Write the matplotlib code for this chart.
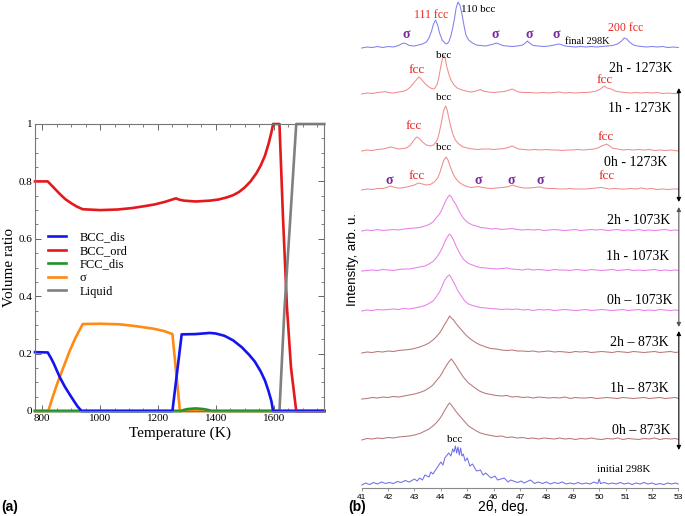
import matplotlib
matplotlib.use('Agg')
import matplotlib.pyplot as plt
from matplotlib.ticker import MultipleLocator, FuncFormatter

# ---------------- (a) volume ratio vs temperature ----------------
T_bcc_dis = [775, 819, 830, 840, 850, 861, 878, 896, 910, 922, 936, 1250, 1282, 1330, 1379, 1400, 1430,
             1460, 1490, 1515, 1535, 1555, 1570, 1582, 1592, 1598, 1775]
V_bcc_dis = [0.205, 0.204, 0.185, 0.165, 0.142, 0.117, 0.085, 0.056, 0.034, 0.016, 0, 0, 0.267, 0.268, 0.272, 0.270, 0.262,
             0.246, 0.222, 0.196, 0.172, 0.138, 0.106, 0.07, 0.035, 0, 0]

T_bcc_ord = [775, 819, 840, 860, 880, 900, 920, 940, 1000, 1060, 1110, 1149, 1190, 1225, 1250, 1262, 1275, 1290,
             1330, 1380, 1410, 1437, 1460, 1480, 1500, 1520, 1540, 1555, 1570, 1582, 1592, 1598, 1620, 1632, 1646,
             1660, 1678, 1775]
V_bcc_ord = [0.80, 0.80, 0.778, 0.757, 0.738, 0.724, 0.712, 0.703, 0.700, 0.702, 0.707, 0.713, 0.720, 0.729, 0.737,
             0.741, 0.736, 0.733, 0.730, 0.733, 0.737, 0.744, 0.752, 0.763, 0.779, 0.80, 0.828, 0.855, 0.89, 0.93,
             0.97, 1.0, 1.0, 0.68, 0.36, 0.15, 0, 0]

T_fcc_dis = [775, 1280, 1290, 1305, 1330, 1355, 1372, 1385, 1775]
V_fcc_dis = [0, 0, 0.004, 0.007, 0.009, 0.007, 0.004, 0, 0]

T_sigma = [775, 821, 835, 850, 861, 880, 896, 915, 940, 1000, 1068, 1120, 1183, 1220, 1250, 1276, 1775]
V_sigma = [0, 0, 0.045, 0.09, 0.12, 0.17, 0.212, 0.255, 0.303, 0.304, 0.302, 0.296, 0.287, 0.279, 0.268, 0, 0]

T_liquid = [775, 1620, 1637, 1658, 1678, 1775]
V_liquid = [0, 0, 0.35, 0.68, 1.0, 1.0]

legend_labels = ['BCC_dis', 'BCC_ord', 'FCC_dis', 'σ', 'Liquid']

# ---------------- (b) XRD patterns (intensity above baseline) ----------------
final_tt = [41.0, 41.2, 41.4, 41.6, 41.8, 42.0, 42.2, 42.4, 42.5, 42.6, 42.7, 42.8, 43.0, 43.15, 43.3, 43.45, 43.55,
            43.65, 43.72, 43.8, 43.88, 43.95, 44.05, 44.15, 44.22, 44.3, 44.38, 44.45, 44.52, 44.58, 44.65, 44.72,
            44.8, 44.88, 44.95, 45.05, 45.2, 45.35, 45.5, 45.7, 45.85, 46.0, 46.1, 46.2, 46.35, 46.5, 46.7, 46.9,
            47.1, 47.2, 47.28, 47.36, 47.5, 47.7, 47.9, 48.1, 48.3, 48.45, 48.55, 48.7, 48.9, 49.1, 49.3, 49.5, 49.7,
            49.9, 50.1, 50.3, 50.5, 50.7, 50.85, 50.95, 51.05, 51.15, 51.3, 51.45, 51.6, 51.8, 52.0, 52.2, 52.4,
            52.6, 52.8, 53.0]
final_I = [0, 1, 0.5, 1.5, 0.5, 1.5, 1, 2.5, 4, 5, 4, 2.5, 2, 3, 4, 6, 10,
           17, 24, 28, 23, 15, 8, 5, 4, 6, 12, 20, 30, 40, 46, 43,
           34, 22, 13, 8, 5, 3, 2.5, 2, 3, 4, 5, 4, 2.5, 2, 1.5, 2,
           3, 5, 7, 5, 2.5, 2, 1.5, 2, 3, 4, 3.5, 2, 1.5, 1, 1.5, 1, 1.5,
           1, 1.5, 2, 2.5, 4, 7, 10, 9, 6, 3, 2, 1.5, 1, 1.5, 1, 1.5,
           0.5, 1, 0.5]

h2_1273_tt = [41.0, 41.2, 41.4, 41.6, 41.8, 41.9, 42.0, 42.2, 42.4, 42.55, 42.7, 42.85, 43.0, 43.1, 43.17, 43.25, 43.35,
              43.45, 43.55, 43.65, 43.75, 43.85, 43.92, 43.98, 44.04, 44.1, 44.16, 44.22, 44.3, 44.4, 44.5, 44.62,
              44.8, 44.95, 45.1, 45.25, 45.4, 45.5, 45.6, 45.8, 46.0, 46.2, 46.4, 46.55, 46.7, 46.82, 46.95, 47.15,
              47.4, 47.6, 47.9, 48.1, 48.3, 48.5, 48.7, 48.9, 49.1, 49.3, 49.5, 49.7, 49.9, 50.05, 50.15, 50.2, 50.3,
              50.45, 50.6, 50.8, 51.0, 51.2, 51.4, 51.6, 51.8, 52.0, 52.2, 52.4, 52.6, 52.8, 53.0]
h2_1273_I = [0, 1, 0.5, 1.5, 2, 2.5, 1.5, 1, 2, 2.5, 4, 7, 12, 15, 17, 15, 12,
             9, 7, 5.5, 5, 9, 16, 25, 33, 39, 36, 28, 20, 13, 9, 6,
             4, 3, 2, 2.5, 3.5, 4.5, 3, 2, 1.5, 2, 2.5, 3.5, 5, 3.5, 2, 1.5,
             1.5, 1, 1.5, 1, 1.5, 2, 1, 1.5, 1, 1.5, 1.5, 2, 3, 5, 7, 8, 6,
             5, 3, 2, 1.5, 1, 1.5, 1, 1.5, 1, 1.5, 0.5, 1, 0.5, 0.5]

h1_1273_tt = [41.0, 41.2, 41.4, 41.6, 41.8, 41.95, 42.12, 42.25, 42.4, 42.55, 42.7, 42.85, 42.95, 43.05, 43.1, 43.2,
              43.3, 43.45, 43.6, 43.72, 43.82, 43.9, 43.97, 44.04, 44.1, 44.18, 44.24, 44.3, 44.37, 44.45, 44.55,
              44.68, 44.85, 45.0, 45.2, 45.4, 45.6, 45.8, 46.0, 46.2, 46.4, 46.55, 46.7, 46.82, 46.95, 47.15, 47.35,
              47.55, 47.8, 48.0, 48.2, 48.4, 48.6, 48.8, 49.0, 49.2, 49.4, 49.6, 49.8, 49.95, 50.1, 50.2, 50.28, 50.4,
              50.5, 50.7, 50.9, 51.1, 51.3, 51.5, 51.7, 51.9, 52.1, 52.3, 52.5, 52.7, 53.0]
h1_1273_I = [0, 1, 0.5, 1.5, 2, 3, 4, 3, 2, 2.5, 3, 6, 10, 13, 14, 12,
             9, 6, 5, 6, 9, 14, 22, 31, 40, 45, 41, 33, 25, 17, 11,
             7, 4, 3, 2, 1.5, 2, 2, 1.5, 2, 2.5, 3.5, 5, 3.5, 2, 1.5, 1,
             1.5, 1, 1.5, 1, 1, 0.5, 1, 1, 1.5, 1, 1.5, 2, 3, 5, 6, 7, 5,
             3, 2, 1, 1.5, 1, 1.5, 1, 1.5, 0.5, 1, 0.5, 1, 0]

h0_1273_tt = [41.0, 41.2, 41.4, 41.6, 41.8, 41.95, 42.1, 42.2, 42.35, 42.5, 42.7, 42.85, 43.0, 43.15, 43.3, 43.45,
              43.6, 43.75, 43.88, 43.97, 44.05, 44.12, 44.2, 44.27, 44.35, 44.45, 44.55, 44.68, 44.85, 45.0, 45.15,
              45.3, 45.4, 45.5, 45.7, 45.9, 46.1, 46.3, 46.5, 46.62, 46.72, 46.82, 46.95, 47.15, 47.35, 47.55, 47.7,
              47.78, 47.9, 48.1, 48.3, 48.5, 48.7, 48.9, 49.1, 49.3, 49.5, 49.7, 49.9, 50.05, 50.2, 50.4, 50.6, 50.8,
              51.0, 51.2, 51.4, 51.6, 51.8, 52.0, 52.2, 52.4, 52.6, 52.8, 53.0]
h0_1273_I = [0, 1, 0.5, 1.5, 1.5, 2.5, 4, 3, 2, 2, 3, 4, 5, 7, 6, 5,
             5.5, 8, 12, 18, 25, 30, 33, 30, 24, 17, 12, 8, 5, 3.5, 2.5,
             3, 3.5, 3, 2, 1.5, 2, 2.5, 3, 4, 5, 4, 3, 2, 2, 2.5, 3,
             3, 2, 1.5, 1.5, 1, 1, 1.5, 1, 1, 1, 1.5, 2, 2.5, 2, 1, 1.5, 1,
             1, 1.5, 1, 2, 1, 1.5, 0.5, 1, 0.5, 1, 1]

grid_tt = [41.0, 41.2, 41.4, 41.6, 41.8, 42.0, 42.2, 42.4, 42.6, 42.8, 43.0, 43.2, 43.4, 43.55, 43.7, 43.82, 43.95,
           44.05, 44.13, 44.2, 44.27, 44.33, 44.4, 44.48, 44.56, 44.65, 44.75, 44.85, 44.95, 45.05, 45.2, 45.35,
           45.5, 45.7, 45.9, 46.1, 46.3, 46.5, 46.7, 46.9, 47.1, 47.3, 47.5, 47.7, 47.9, 48.1, 48.3, 48.5, 48.7,
           48.9, 49.1, 49.3, 49.5, 49.7, 49.9, 50.1, 50.3, 50.5, 50.7, 50.9, 51.1, 51.3, 51.5, 51.7, 51.9, 52.1,
           52.3, 52.5, 52.7, 52.9, 53.0]

h2_1073_I = [0, 1, 0.5, 1.5, 0.5, 1, 1.5, 1, 2, 2.5, 3, 3.5, 5, 6.5, 9, 13, 17,
             22, 27, 31, 34, 36, 34, 30, 27, 22, 17, 13, 10, 8, 6, 5,
             3.5, 3, 2, 2.5, 1.5, 2, 2.5, 1.5, 1, 1.5, 1, 1.5, 0.5, 1, 1.5, 1, 0.5,
             1, 1.5, 0.5, 1, 1.5, 1, 1.5, 0.5, 1, 1.5, 0.5, 1, 0.5, 1.5, 0.5, 1, 0.5,
             1, 1.5, 0.5, 1, 0.5]
h1_1073_I = [0, 0.5, 1, 0.5, 1.5, 1, 0.5, 1.5, 2, 2, 3, 4, 5, 7, 9.5, 13, 18,
             23, 28, 32, 35, 37, 35, 31, 26, 21, 16, 12, 9.5, 7.5, 6, 4.5,
             3.5, 3, 2.5, 2, 2.5, 3, 2, 1.5, 1, 2, 1, 1.5, 1, 0.5, 1.5, 1, 1,
             0.5, 1.5, 1, 0.5, 1.5, 1, 0.5, 1, 1.5, 0.5, 1, 1.5, 0.5, 1, 0.5, 1, 1.5,
             0.5, 1, 0.5, 1, 0.5]
h0_1073_I = [0, 1, 0.5, 1.5, 1, 1.5, 2, 1.5, 2.5, 2, 3, 4, 5.5, 7.5, 10, 14, 19,
             25, 30, 33, 35, 36, 33, 29, 25, 20, 16, 12, 9, 7, 5.5, 4.5,
             3.5, 3, 2.5, 2, 1.5, 2, 1.5, 2, 1, 1.5, 0.5, 1.5, 1, 1.5, 0.5, 1, 1.5,
             1, 0.5, 1, 1.5, 0.5, 1, 1.5, 1, 0.5, 1, 1.5, 0.5, 1, 1.5, 0.5, 1, 0.5,
             1.5, 1, 0.5, 1, 0.5]
h2_873_I = [0, 1, 0.5, 1.5, 1, 2, 1.5, 2.5, 3, 3.5, 4.5, 6, 8, 10, 13, 16, 20,
            24, 28, 31, 34, 37, 35, 33, 30, 27, 24, 21, 18, 15.5, 12.5, 10,
            8, 6, 4.5, 4, 3, 2.5, 3, 2, 2, 1.5, 2, 1, 1.5, 2, 1, 1.5, 1,
            0.5, 1.5, 1, 1.5, 0.5, 1, 1.5, 1, 0.5, 1.5, 1, 0.5, 1.5, 1, 0.5, 1, 1.5,
            0.5, 1, 1.5, 0.5, 1]
h1_873_I = [0, 0.5, 1.5, 1, 2, 1.5, 2.5, 2, 3, 4, 5, 6.5, 8.5, 11, 14, 18, 22,
            26, 30, 33, 36, 38, 40, 37, 34, 30, 26, 22, 19, 16, 13, 10,
            7.5, 5.5, 4.5, 3.5, 3, 3.5, 2, 2.5, 1.5, 2, 1, 2, 1.5, 1, 1.5, 1, 2,
            0.5, 1.5, 1, 1, 1.5, 0.5, 1, 1.5, 1, 0.5, 1.5, 1, 0.5, 1, 1.5, 0.5, 1,
            1.5, 0.5, 1, 1.5, 0.5]
h0_873_I = [0, 1.5, 1, 2, 1.5, 2.5, 2, 3, 3.5, 4, 5, 6.5, 9, 11, 14, 17, 21,
            25, 29, 32, 35, 37, 35, 32, 29, 26, 23, 20, 17, 14, 11.5, 9,
            7, 5.5, 4.5, 3.5, 4, 2.5, 3, 2, 2.5, 1.5, 2, 1, 2, 1.5, 1, 2, 1,
            1.5, 0.5, 1.5, 1, 2, 1, 0.5, 1.5, 1, 2, 0.5, 1.5, 1, 0.5, 1.5, 1, 2,
            0.5, 1.5, 1, 1.5, 0.5]

init_tt = [41.0, 41.15, 41.3, 41.45, 41.6, 41.75, 41.9, 42.05, 42.2, 42.35, 42.5, 42.65, 42.8, 43.0, 43.1, 43.2,
           43.3, 43.4, 43.55, 43.62, 43.7, 43.85, 44.0, 44.08, 44.15, 44.3, 44.38, 44.45, 44.5, 44.55, 44.6, 44.65,
           44.7, 44.75, 44.8, 44.85, 44.92, 45.0, 45.1, 45.2, 45.35, 45.5, 45.6, 45.7, 45.9, 46.05, 46.15, 46.4,
           46.55, 46.65, 46.9, 47.05, 47.15, 47.4, 47.55, 47.7, 47.85, 48.0, 48.15, 48.3, 48.45, 48.6, 48.75, 48.9,
           49.05, 49.2, 49.35, 49.5, 49.65, 49.8, 49.95, 50.0, 50.05, 50.2, 50.35, 50.5, 50.65, 50.8, 50.95, 51.1,
           51.25, 51.4, 51.55, 51.7, 51.85, 52.0, 52.15, 52.3, 52.45, 52.6, 52.75, 52.9, 53.0]
init_I = [0, 2, 0.5, 2.5, 1, 3, 1.5, 2.5, 1.5, 3.5, 2.5, 4.5, 3, 6, 4, 7,
          5, 10, 8, 13, 11, 17, 23, 20, 27, 32, 29, 36, 33, 39, 32, 38,
          30, 37, 29, 31, 24, 27, 19, 21, 14, 15, 10, 12, 7, 9, 5, 7,
          3, 5, 2.5, 4, 2, 5, 1.5, 3, 1.5, 3, 1, 2.5, 1.5, 3, 1, 2,
          1, 2.5, 1, 2, 1, 3, 1.5, 6, 1.5, 2.5, 1, 2, 1, 2.5, 1, 2,
          0.5, 2, 1, 2.5, 1, 2, 0.5, 1.5, 0.5, 2, 1, 2, 1]

trace_tts = [final_tt, h2_1273_tt, h1_1273_tt, h0_1273_tt, grid_tt, grid_tt, grid_tt, grid_tt, grid_tt, grid_tt, init_tt]
trace_Is = [final_I, h2_1273_I, h1_1273_I, h0_1273_I, h2_1073_I, h1_1073_I, h0_1073_I, h2_873_I, h1_873_I, h0_873_I, init_I]
trace_labels = ['final 298K', '2h - 1273K', '1h - 1273K', '0h - 1273K', '2h - 1073K', '1h - 1073K',
                '0h \u2013 1073K', '2h \u2013 873K', '1h \u2013 873K', '0h \u2013 873K', 'initial 298K']
xrd_ticks = list(range(41, 54))

# layout (positions / styles)
offsets = [440, 394, 337, 298, 257, 217, 177, 135, 89, 48, 3]
trace_colors = ['#8080ef', '#f08c8c', '#f08c8c', '#f08c8c', '#e97ee9', '#e97ee9', '#e97ee9',
                '#b97777', '#b97777', '#b97777', '#6f6fe8']
label_pos = [(49.55, 446), (51.58, 420), (51.52, 379), (51.38, 326), (51.48, 268), (51.45, 232),
             (51.52, 188), (51.52, 146), (51.52, 100), (51.58, 58), (50.92, 18)]
label_size = [7.5, 10, 10, 10, 10, 10, 10, 10, 10, 10, 8]

SERIF = ['Liberation Serif', 'DejaVu Serif']
SANS = ['Liberation Sans', 'DejaVu Sans']

fig = plt.figure(figsize=(6.85, 5.16), dpi=100)

# ---- panel (a)
ax = fig.add_axes([35 / 685, 1 - 411 / 516, 289.3 / 685, 287 / 516])
lw = 1.9
l_ord, = ax.plot(T_bcc_ord, V_bcc_ord, color='#e3191c', lw=lw)
l_liq, = ax.plot(T_liquid, V_liquid, color='#808080', lw=lw)
l_sig, = ax.plot(T_sigma, V_sigma, color='#ff8a14', lw=lw)
l_fcc, = ax.plot(T_fcc_dis, V_fcc_dis, color='#23922a', lw=lw)
l_dis, = ax.plot(T_bcc_dis, V_bcc_dis, color='#1414f0', lw=lw)
for l in (l_ord, l_liq, l_sig, l_fcc, l_dis):
    l.set_clip_on(False)
    l.set_solid_joinstyle('round')
ax.set_xlim(775, 1775)
ax.set_ylim(0, 1)
ax.xaxis.set_major_locator(MultipleLocator(200))
ax.xaxis.set_minor_locator(MultipleLocator(50))
ax.yaxis.set_major_locator(MultipleLocator(0.2))
ax.yaxis.set_minor_locator(MultipleLocator(0.05))
ax.yaxis.set_major_formatter(FuncFormatter(lambda v, p: f'{v:g}'))
ax.tick_params(which='both', direction='in', top=True, right=True, colors='#666666',
               labelcolor='black', labelsize=8, pad=2)
ax.tick_params(which='major', length=4, width=0.7)
ax.tick_params(which='minor', length=2.2, width=0.6)
for lab in ax.get_xticklabels() + ax.get_yticklabels():
    lab.set_family(SERIF)
for s in ax.spines.values():
    s.set_color('#777777')
    s.set_linewidth(0.8)
ax.set_xlabel('Temperature (K)', family=SERIF, fontsize=11, labelpad=3)
ax.set_ylabel('Volume ratio', family=SERIF, fontsize=11, labelpad=2)
leg = ax.legend([l_dis, l_ord, l_fcc, l_sig, l_liq], legend_labels, loc='upper left',
                bbox_to_anchor=(0.045, 0.625), frameon=False, prop={'family': SERIF, 'size': 9},
                handlelength=1.4, handletextpad=1.1, labelspacing=0.12, borderpad=0, borderaxespad=0)
for h in leg.legend_handles:
    h.set_linewidth(1.9)

# ---- panel (b)
bx = fig.add_axes([361.7 / 685, 1 - 488 / 516, 316.6 / 685, 488 / 516])
for tt, I, off, c in zip(trace_tts, trace_Is, offsets, trace_colors):
    bx.plot(tt, [v + off for v in I], color=c, lw=0.75, clip_on=False)
for lab, (x, y), fs in zip(trace_labels, label_pos, label_size):
    bx.text(x, y, lab, family=SERIF, fontsize=fs, ha='center', va='center', color='black')

red = '#e8251f'
purple = '#7a2a9c'
# annotations on final pattern
bx.text(43.64, 473, '111 fcc', family=SERIF, fontsize=8.5, color=red, ha='center', va='center')
bx.text(45.42, 478, '110 bcc', family=SERIF, fontsize=8, color='black', ha='center', va='center')
bx.text(51.02, 460, '200 fcc', family=SERIF, fontsize=8.5, color=red, ha='center', va='center')
for x in [42.68, 46.07, 47.34, 48.37]:
    bx.text(x, 454, 'σ', family=SERIF, fontsize=10, color=purple, fontweight='bold', ha='center', va='center')
# 2h - 1273K
bx.text(44.1, 433, 'bcc', family=SERIF, fontsize=8, ha='center', va='center')
bx.text(43.07, 418, 'fcc', family=SERIF, fontsize=9.5, color=red, ha='center', va='center')
bx.text(50.2, 408, 'fcc', family=SERIF, fontsize=9.5, color=red, ha='center', va='center')
# 1h - 1273K
bx.text(44.1, 390, 'bcc', family=SERIF, fontsize=8, ha='center', va='center')
bx.text(42.96, 362, 'fcc', family=SERIF, fontsize=9.5, color=red, ha='center', va='center')
bx.text(50.26, 351, 'fcc', family=SERIF, fontsize=9.5, color=red, ha='center', va='center')
# 0h - 1273K
bx.text(44.1, 341, 'bcc', family=SERIF, fontsize=8, ha='center', va='center')
bx.text(43.07, 312, 'fcc', family=SERIF, fontsize=9.5, color=red, ha='center', va='center')
bx.text(50.28, 312, 'fcc', family=SERIF, fontsize=9.5, color=red, ha='center', va='center')
for x in [42.05, 45.42, 46.66, 47.76]:
    bx.text(x, 308, 'σ', family=SERIF, fontsize=10, color=purple, fontweight='bold', ha='center', va='center')
# initial
bx.text(44.53, 48, 'bcc', family=SERIF, fontsize=8, ha='center', va='center')

# arrows
for (y0, y1), ac in zip([(400, 286), (281, 161), (157, 38)], ['black', '#555555', 'black']):
    bx.annotate('', xy=(53.02, y1), xytext=(53.02, y0), annotation_clip=False,
                arrowprops=dict(arrowstyle='<|-|>', lw=0.8, color=ac, mutation_scale=6,
                                shrinkA=0, shrinkB=0))

bx.set_xlim(41, 53)
bx.set_ylim(0, 488)
bx.set_xticks(xrd_ticks)
bx.set_yticks([])
for k in ('left', 'right', 'top'):
    bx.spines[k].set_visible(False)
bx.spines['bottom'].set_color('#888888')
bx.spines['bottom'].set_linewidth(0.8)
bx.tick_params(axis='x', direction='out', length=2.5, width=0.6, colors='#888888',
               labelcolor='black', labelsize=6, pad=1.5)
for lab in bx.get_xticklabels():
    lab.set_family(SANS)
bx.patch.set_alpha(0)

fig.text(503 / 685, 1 - 507 / 516, '2θ, deg.', family=SANS, fontsize=10, ha='center', va='center')
fig.text(353 / 685, 1 - 259 / 516, 'Intensity, arb. u.', family=SANS, fontsize=9.5,
         rotation=90, ha='center', va='center')
fig.text(10 / 685, 1 - 507 / 516, '(a)', family=SANS, fontsize=10, fontweight='bold', ha='center', va='center')
fig.text(357 / 685, 1 - 507 / 516, '(b)', family=SANS, fontsize=10, fontweight='bold', ha='center', va='center')

fig.savefig('out.png', dpi=100)
